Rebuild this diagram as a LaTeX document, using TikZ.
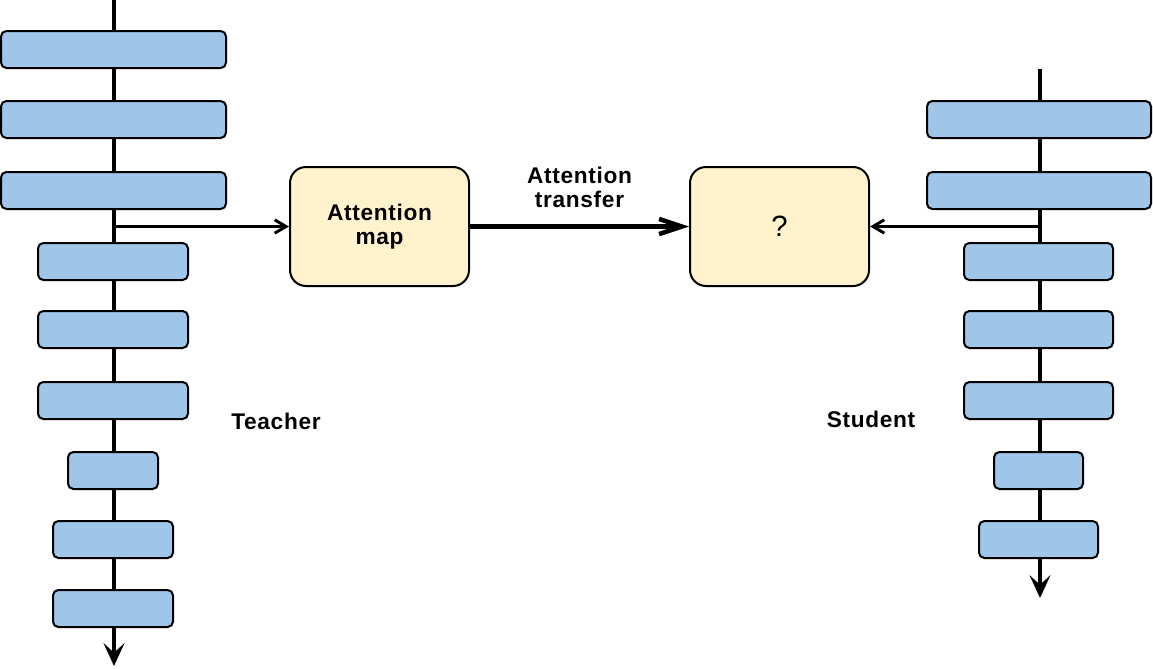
\documentclass[tikz,border=0pt]{standalone}
\usepackage{fontspec}
\setmainfont{Liberation Sans}
\usepackage{xcolor}
\usetikzlibrary{arrows.meta, positioning}

\definecolor{layerblue}{HTML}{9FC5E8}
\definecolor{mapyellow}{HTML}{FFF2CC}
\newcommand{\lblfont}{\fontsize{17}{18}\selectfont\bfseries\addfontfeatures{LetterSpace=3}}

\begin{document}
\begin{tikzpicture}[
    x=0.75pt, y=-0.75pt,
    layer/.style={rectangle, draw, fill=layerblue, rounded corners=4pt, line width=1.5pt,
                  minimum height=37*0.75pt, inner sep=0pt},
    mapbox/.style={rectangle, draw, fill=mapyellow, rounded corners=12pt, line width=1.5pt,
                   minimum width=179*0.75pt, minimum height=119*0.75pt, align=center,
                   font=\lblfont},
    trunk/.style={line width=3.6pt, -{Stealth[length=6mm, width=5.5mm, inset=2.5mm]}},
    arr/.style={line width=2.2pt, -{Straight Barb[length=3mm, width=3.5mm]}},
    bigarr/.style={line width=3.4pt, -{Straight Barb[length=6mm, width=4mm]}},
    lbl/.style={font=\lblfont, align=center}
]
\useasboundingbox (0,0) rectangle (1153,668);

% backbone of the two networks
\coordinate (ttop) at (114,0);
\coordinate (tend) at (114,666);
\coordinate (stop) at (1040,69);
\coordinate (send) at (1040,598);
\draw[trunk] (ttop) -- (tend);
\draw[trunk] (stop) -- (send);

% teacher layers
\node[layer, minimum width=225*0.75pt] (t1) at (113.5,49.5)  {};
\node[layer, minimum width=225*0.75pt] (t2) at (113.5,119.5) {};
\node[layer, minimum width=225*0.75pt] (t3) at (113.5,190.5) {};
\node[layer, minimum width=150*0.75pt] (t4) at (113,261.5)   {};
\node[layer, minimum width=150*0.75pt] (t5) at (113,329.5)   {};
\node[layer, minimum width=150*0.75pt] (t6) at (113,400.5)   {};
\node[layer, minimum width=90*0.75pt]  (t7) at (113,470.5)   {};
\node[layer, minimum width=120*0.75pt] (t8) at (113,539.5)   {};
\node[layer, minimum width=120*0.75pt] (t9) at (113,608.5)   {};

% student layers
\node[layer, minimum width=224*0.75pt] (s1) at (1039,119.5)   {};
\node[layer, minimum width=224*0.75pt] (s2) at (1039,190.5)   {};
\node[layer, minimum width=149*0.75pt] (s3) at (1038.5,261.5) {};
\node[layer, minimum width=149*0.75pt] (s4) at (1038.5,329.5) {};
\node[layer, minimum width=149*0.75pt] (s5) at (1038.5,400.5) {};
\node[layer, minimum width=89*0.75pt]  (s6) at (1038.5,470.5) {};
\node[layer, minimum width=119*0.75pt] (s7) at (1038.5,539.5) {};

\node[lbl] (teacher) at (276,421) {Teacher};
\node[lbl] (student) at (871,419) {Student};

% attention maps
\node[mapbox] (attmap) at (379.5,226.5) {Attention\\map};
\node[mapbox, font=\fontsize{22}{24}\selectfont] (unknown) at (779.5,226.5) {\raisebox{-2pt}{?}};

\coordinate (tsplit) at (114,226.5);
\coordinate (ssplit) at (1040,226.5);
\draw[arr] (tsplit) -- (attmap.west);
\draw[arr] (ssplit) -- (unknown.east);
\draw[bigarr] (attmap.east) -- node[lbl, above=9pt]{Attention\\transfer} (unknown.west);
\end{tikzpicture}
\end{document}
